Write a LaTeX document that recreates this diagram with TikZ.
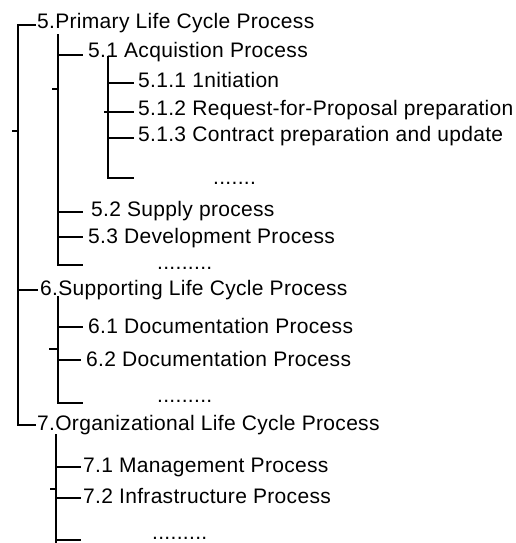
\documentclass[tikz,border=0pt]{standalone}
\usepackage{fontspec}
\setmainfont[LetterSpace=1.5]{Liberation Sans}
\begin{document}
\begin{tikzpicture}[x=1pt,y=-1pt,
  item/.style={anchor=base west,inner sep=0pt,font=\fontsize{21}{24}\selectfont},
  treeline/.style={line width=1.7pt,line cap=rect},
  tickmark/.style={line width=1.5pt}]
\useasboundingbox (0,0) rectangle (516,543);

% labels
\node[item] (n5)   at (37,29)  {5.Primary Life Cycle Process};
\node[item] (n51)  at (88,57)  {5.1 Acquistion Process};
\node[item] (n511) at (138,88) {5.1.1 1nitiation};
\node[item] (n512) at (138,115){5.1.2 Request-for-Proposal preparation};
\node[item] (n513) at (138,141){5.1.3 Contract preparation and update};
\node[item] (d51)  at (213,184){.......};
\node[item] (n52)  at (91,216) {5.2 Supply process};
\node[item] (n53)  at (88,243) {5.3 Development Process};
\node[item] (d5)   at (157,269){.........};
\node[item] (n6)   at (40,295) {6.Supporting Life Cycle Process};
\node[item] (n61)  at (88,333) {6.1 Documentation Process};
\node[item] (n62)  at (86,366) {6.2 Documentation Process};
\node[item] (d6)   at (157,402){.........};
\node[item] (n7)   at (37,430) {7.Organizational Life Cycle Process};
\node[item] (n71)  at (83,472) {7.1 Management Process};
\node[item] (n72)  at (83,503) {7.2 Infrastructure Process};
\node[item] (d7)   at (152,539){.........};

% trunk ends
\coordinate (r0) at (18,25);   \coordinate (r1) at (18,425);
\coordinate (s0) at (58,35);   \coordinate (s1) at (58,265);
\coordinate (a0) at (108,57);  \coordinate (a1) at (108,178);
\coordinate (u0) at (58,297);  \coordinate (u1) at (58,403);
\coordinate (o0) at (56,435);  \coordinate (o1) at (56,543);

% branch ends
\coordinate (b5)   at (35,25);
\coordinate (b6)   at (37,290);
\coordinate (b7)   at (35,425);
\coordinate (b51)  at (82,55);
\coordinate (b52)  at (82,212);
\coordinate (b53)  at (82,237);
\coordinate (b5e)  at (82,265);
\coordinate (b511) at (133,83);
\coordinate (b512) at (133,112);
\coordinate (b513) at (133,138);
\coordinate (b51e) at (133,178);
\coordinate (b61)  at (82,327);
\coordinate (b62)  at (80,360);
\coordinate (b6e)  at (82,403);
\coordinate (b71)  at (80,467);
\coordinate (b72)  at (80,498);
\coordinate (b7e)  at (80,540);

% trunks
\draw[treeline] (r0) -- (r1);
\draw[treeline] (s0) -- (s1);
\draw[treeline] (a0) -- (a1);
\draw[treeline] (u0) -- (u1);
\draw[treeline] (o0) -- (o1);

% branches
\foreach \t/\b in {r0/b5,r0/b6,r0/b7,
                   s0/b51,s0/b52,s0/b53,s0/b5e,
                   a0/b511,a0/b512,a0/b513,a0/b51e,
                   u0/b61,u0/b62,u0/b6e,
                   o0/b71,o0/b72,o0/b7e}
  \draw[treeline] (\t |- \b) -- (\b);

% small marks on the trunks
\draw[tickmark] (12,131) -- (r0 |- 0,131);
\draw[tickmark] (52,89)  -- (s0 |- 0,89);
\draw[tickmark] (104,112) -- (a0 |- 0,112);
\draw[tickmark] (49,349) -- (u0 |- 0,349);
\draw[tickmark] (50,489) -- (o0 |- 0,489);
\end{tikzpicture}
\end{document}
